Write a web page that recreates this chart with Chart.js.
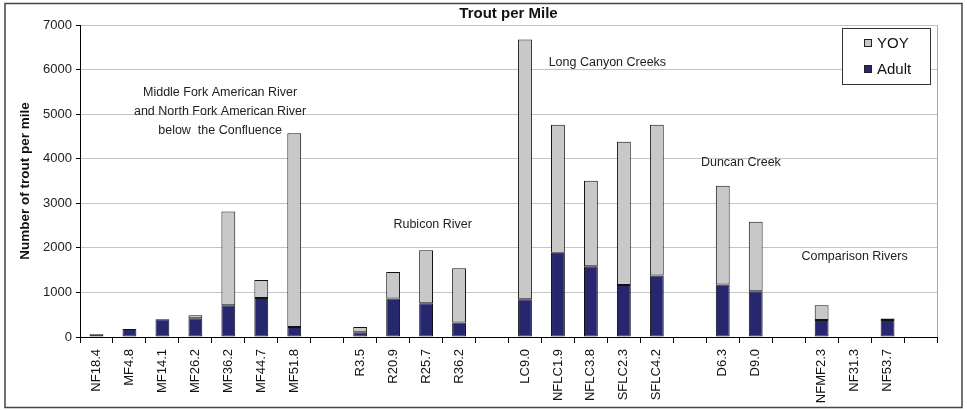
<!DOCTYPE html>
<html>
<head>
<meta charset="utf-8">
<title>Trout per Mile</title>
<script src="https://cdn.jsdelivr.net/npm/chart.js@4/dist/chart.umd.min.js"></script>
<style>
    html, body { margin: 0; padding: 0; background: #fff; }
    #wrap { width: 967px; height: 410px; position: relative; }
</style>
</head>
<body>
<div id="wrap"><canvas id="troutChart" width="967" height="410"></canvas></div>
<script>
// Trout per mile by site (stacked: Adult at the bottom, YOY on top)

const categories = ['NF18.4', 'MF4.8', 'MF14.1', 'MF26.2', 'MF36.2', 'MF44.7', 'MF51.8', '',
    'R3.5', 'R20.9', 'R25.7', 'R36.2', '',
    'LC9.0', 'NFLC1.9', 'NFLC3.8', 'SFLC2.3', 'SFLC4.2', '',
    'D6.3', 'D9.0', '',
    'NFMF2.3', 'NF31.3', 'NF53.7', ''];

const adultValues = [60, 180, 400, 420, 710, 875, 225, null,
    105, 865, 755, 325, null,
    845, 1890, 1590, 1165, 1380, null,
    1180, 1025, null,
    380, null, 380, null];

const yoyValues = [null, null, null, 70, 2105, 405, 4345, null,
    120, 592, 1189, 1215, null,
    5830, 2872, 1917, 3216, 3382, null,
    2215, 1562, null,
    331, null, 35, null];

const yTicks = [0, 1000, 2000, 3000, 4000, 5000, 6000, 7000];

// group labels: [lines, category position, value]
const groupNotes = [
    [['Middle Fork American River', 'and North Fork American River', 'below  the Confluence'], 3.75, 5480],
    [['Rubicon River'], 10.2, 2530],
    [['Long Canyon Creeks'], 15.5, 6160],
    [['Duncan Creek'], 19.55, 3920],
    [['Comparison Rivers'], 23.0, 1810]
];

const ADULT_COLOR = '#272770';
const YOY_COLOR = '#c8c8cb';
const FONT = "'Liberation Sans', Arial, sans-serif";

const decorPlugin = {
    id: 'decor',
    beforeDatasetsDraw(chart) {
        const { ctx, chartArea } = chart;
        ctx.save();
        ctx.strokeStyle = '#a8a8a8';
        ctx.lineWidth = 1;
        ctx.beginPath();
        ctx.moveTo(Math.round(chartArea.right) + 0.5, chartArea.top);
        ctx.lineTo(Math.round(chartArea.right) + 0.5, chartArea.bottom);
        ctx.stroke();
        ctx.restore();
    },
    afterDraw(chart) {
        const { ctx, chartArea, scales } = chart;
        const ys = scales.y;
        const catW = (chartArea.right - chartArea.left) / categories.length;
        ctx.save();

        // group notes
        ctx.fillStyle = '#222';
        ctx.font = '12.5px ' + FONT;
        ctx.textAlign = 'center';
        ctx.textBaseline = 'middle';
        groupNotes.forEach(([lines, pos, val]) => {
            const x = chartArea.left + (pos + 0.5) * catW;
            const y = ys.getPixelForValue(val);
            lines.forEach((line, i) => ctx.fillText(line, x, y + i * 19));
        });

        // title
        ctx.font = 'bold 15px ' + FONT;
        ctx.fillStyle = '#111';
        ctx.fillText('Trout per Mile', (chartArea.left + chartArea.right) / 2, 14);

        // legend box
        const lx = 842, ly = 28, lw = 88, lh = 56;
        ctx.fillStyle = '#fff';
        ctx.fillRect(lx, ly, lw, lh);
        ctx.strokeStyle = '#333';
        ctx.lineWidth = 1;
        ctx.strokeRect(lx + 0.5, ly + 0.5, lw, lh);
        const items = [['YOY', YOY_COLOR, 43], ['Adult', ADULT_COLOR, 69]];
        ctx.font = '15px ' + FONT;
        ctx.textAlign = 'left';
        items.forEach(([label, color, cy]) => {
            ctx.fillStyle = color;
            ctx.fillRect(864, cy - 4, 8, 8);
            ctx.strokeStyle = '#222';
            ctx.strokeRect(864.5, cy - 3.5, 7, 7);
            ctx.fillStyle = '#111';
            ctx.fillText(label, 877, cy + 1);
        });

        // outer frame
        ctx.strokeStyle = '#444';
        ctx.lineWidth = 1.5;
        ctx.strokeRect(5, 3.5, 957, 404);
        ctx.restore();
    }
};

const ctx = document.getElementById('troutChart').getContext('2d');
new Chart(ctx, {
    type: 'bar',
    data: {
        labels: categories,
        datasets: [{
            label: 'Adult',
            data: adultValues,
            backgroundColor: ADULT_COLOR,
            borderColor: '#111',
            borderWidth: 1,
            borderSkipped: false,
            barPercentage: 0.42,
            categoryPercentage: 1
        }, {
            label: 'YOY',
            data: yoyValues,
            backgroundColor: YOY_COLOR,
            borderColor: '#111',
            borderWidth: 1,
            borderSkipped: false,
            barPercentage: 0.42,
            categoryPercentage: 1
        }]
    },
    options: {
        responsive: false,
        animation: false,
        layout: { padding: { top: 25, right: 30, left: 0, bottom: 0 } },
        plugins: {
            legend: { display: false },
            title: { display: false },
            tooltip: { enabled: false }
        },
        scales: {
            x: {
                stacked: true,
                offset: true,
                grid: { offset: true, drawOnChartArea: false, tickLength: 6, color: '#000' },
                border: { color: '#000', width: 1 },
                ticks: {
                    autoSkip: false,
                    maxRotation: 90,
                    minRotation: 90,
                    padding: 6,
                    color: '#111',
                    font: { family: FONT, size: 13 }
                },
                afterFit(scale) { scale.height = 73; }
            },
            y: {
                stacked: true,
                min: 0,
                max: 7000,
                afterBuildTicks(scale) { scale.ticks = yTicks.map(v => ({ value: v })); },
                grid: { color: '#c4c4c4', tickColor: '#000', tickLength: 4 },
                border: { color: '#000', width: 1 },
                ticks: {
                    padding: 4,
                    color: '#222',
                    font: { family: FONT, size: 13 },
                    callback: v => String(v)
                },
                title: {
                    display: true,
                    text: 'Number of trout per mile',
                    color: '#111',
                    font: { family: FONT, size: 13.5, weight: 'bold' },
                    padding: { top: 17, bottom: 0 }
                },
                afterFit(scale) { scale.width = 80; }
            }
        }
    },
    plugins: [decorPlugin]
});
</script>
</body>
</html>
